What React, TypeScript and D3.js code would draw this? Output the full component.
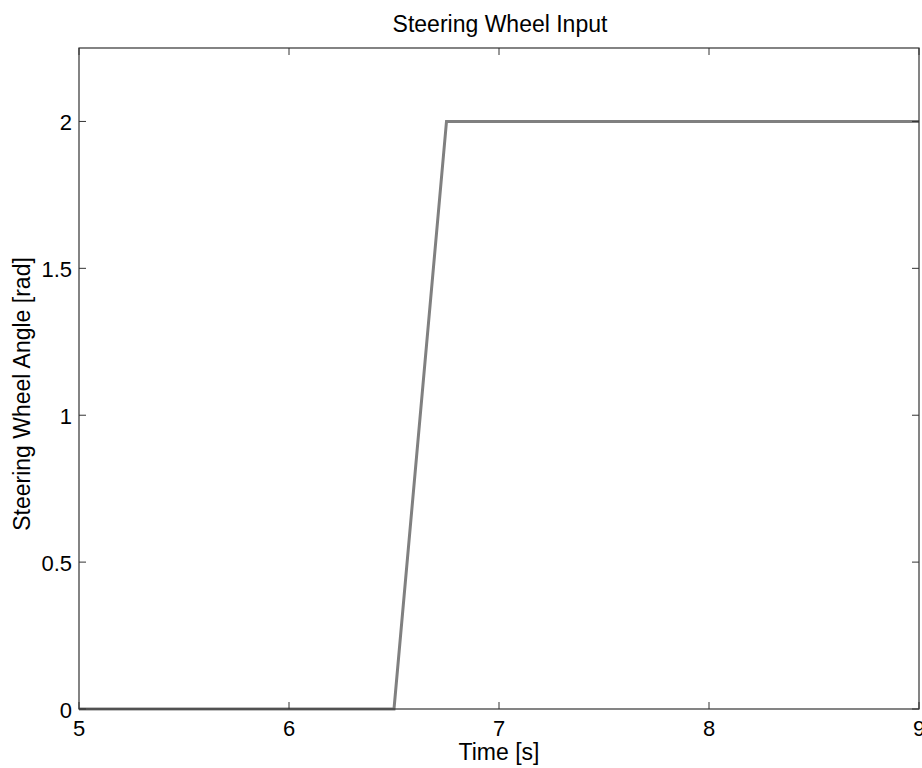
import React from "react";
import * as d3 from "d3";

const times = [5, 6.5, 6.75, 9];
const angles = [0, 0, 2, 2];
const xTicks = [5, 6, 7, 8, 9];
const yTicks = [0, 0.5, 1, 1.5, 2];

const W = 922;
const H = 768;
const M = { left: 79, right: 919, top: 48, bottom: 709 };

export default function App() {
  const x = d3.scaleLinear().domain([5, 9]).range([M.left, M.right]);
  const y = d3.scaleLinear().domain([0, 2.25]).range([M.bottom, M.top]);
  const pts = times.map((t, i) => [t, angles[i]] as [number, number]);
  const line = d3.line<[number, number]>().x((d) => x(d[0])).y((d) => y(d[1]));
  const font = "Liberation Sans, Arial, Helvetica, sans-serif";
  const tl = 7;
  return (
    <svg width={W} height={H} style={{ position: "absolute", left: 0, top: 0, background: "#fff" }} fontFamily={font}>
      <rect x={0} y={0} width={W} height={H} fill="#fff" />
      <path d={line(pts) || ""} fill="none" stroke="#808080" strokeWidth={3} />
      <rect x={M.left} y={M.top} width={M.right - M.left} height={M.bottom - M.top} fill="none" stroke="#333" strokeWidth={1.2} />
      {xTicks.map((t) => (
        <g key={"x" + t}>
          <line x1={x(t)} x2={x(t)} y1={M.bottom} y2={M.bottom - tl} stroke="#333" />
          <line x1={x(t)} x2={x(t)} y1={M.top} y2={M.top + tl} stroke="#333" />
          <text x={x(t)} y={736} textAnchor="middle" fontSize={22}>{String(t)}</text>
        </g>
      ))}
      {yTicks.map((t) => (
        <g key={"y" + t}>
          <line x1={M.left} x2={M.left + tl} y1={y(t)} y2={y(t)} stroke="#333" />
          <line x1={M.right} x2={M.right - tl} y1={y(t)} y2={y(t)} stroke="#333" />
          <text x={72} y={y(t) + 8.5} textAnchor="end" fontSize={22}>{String(t)}</text>
        </g>
      ))}
      <text x={500} y={32} textAnchor="middle" fontSize={23}>Steering Wheel Input</text>
      <text x={(M.left + M.right) / 2} y={760} textAnchor="middle" fontSize={23}>Time [s]</text>
      <text transform={`translate(30, 394) rotate(-90)`} textAnchor="middle" fontSize={23}>Steering Wheel Angle [rad]</text>
    </svg>
  );
}
